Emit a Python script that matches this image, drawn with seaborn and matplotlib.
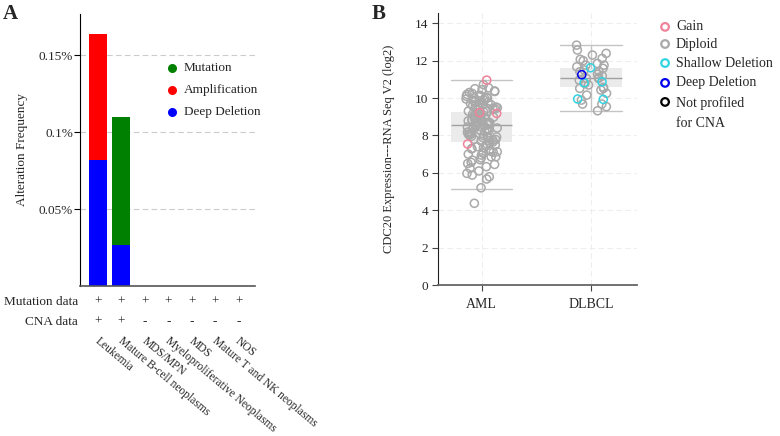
import numpy as np
import pandas as pd
import matplotlib
matplotlib.use('Agg')
import matplotlib.pyplot as plt
import seaborn as sns

# ── Panel A: alteration frequency per cancer type (%) ──────────
cancer_types = ['Leukemia', 'Mature B-cell neoplasms', 'MDS/MPN',
                'Myeloproliferative Neoplasms', 'MDS',
                'Mature T and NK neoplasms', 'NOS']
deep_deletion = [0.082, 0.027, 0, 0, 0, 0, 0]
amplification = [0.082, 0, 0, 0, 0, 0, 0]
mutation = [0, 0.083, 0, 0, 0, 0, 0]
mutation_data = ['+', '+', '+', '+', '+', '+', '+']
cna_data = ['+', '+', '-', '-', '-', '-', '-']
freq_ticks = [0.05, 0.1, 0.15]
freq_labels = ['0.05%', '0.1%', '0.15%']

# ── Panel B: CDC20 expression (log2) by CNA status ─────────────
groups = ['AML', 'DLBCL']
aml_diploid = [10.72, 10.55, 10.5, 10.45, 10.38, 10.35, 10.3,
               10.25, 10.2, 10.15, 10.1, 10.1, 10.05, 10.0, 10.0, 9.98, 9.95,
               9.9, 9.88, 9.85, 9.8, 9.78, 9.75, 9.7, 9.68, 9.65, 9.6, 9.58, 9.55, 9.52,
               9.48, 9.45, 9.42, 9.4, 9.35, 9.3, 9.28, 9.25, 9.2, 9.15, 9.12, 9.1, 9.08, 9.05, 9.02,
               8.98, 8.95, 8.92, 8.9, 8.88, 8.85, 8.82, 8.8, 8.78, 8.75, 8.72, 8.7, 8.68,
               8.65, 8.62, 8.6, 8.58, 8.55, 8.52, 8.5,
               8.48, 8.45, 8.42, 8.4, 8.38, 8.35, 8.3, 8.28, 8.25, 8.2, 8.18, 8.15, 8.1,
               8.08, 8.05, 8.02, 8.0,
               7.95, 7.92, 7.9, 7.88, 7.85, 7.8, 7.78, 7.75, 7.72, 7.7, 7.65, 7.6, 7.55, 7.5,
               7.45, 7.4, 7.35, 7.3, 7.28, 7.2, 7.15, 7.13, 7.1, 7.05, 7.0,
               6.95, 6.86, 6.86, 6.8, 6.7, 6.68, 6.56, 6.5, 6.45, 6.33, 6.24, 6.1, 5.97, 5.88,
               5.79, 5.67, 5.2, 4.37]
aml_gain = [10.96, 9.18, 9.22, 7.54]
dlbcl_diploid = [12.83, 12.57, 12.39, 12.3, 12.12, 12.07, 12.0, 11.85, 11.76, 11.76,
                 11.67, 11.59, 11.5, 11.41, 11.41, 11.28, 11.18, 11.1, 11.05, 11.05,
                 10.96, 10.78, 10.7, 10.57, 10.52, 10.52, 10.43, 10.25, 10.16, 9.89,
                 9.68, 9.68, 9.54, 9.32]
dlbcl_shallow = [11.62, 10.82, 10.87, 9.93, 9.95]
dlbcl_deep = [11.25]

# box summary
box_q1 = [7.63, 10.6]
box_med = [8.56, 11.07]
box_q3 = [9.23, 11.6]
whisk_lo = [5.13, 9.33]
whisk_hi = [10.98, 12.84]

cna_types = ['Gain', 'Diploid', 'Shallow Deletion', 'Deep Deletion', 'Not profiled\nfor CNA']
cna_colors = ['#f0829a', '#a9a9a9', '#33d4e2', '#0000ee', '#000000']

sns.set_style('ticks')
plt.rcParams['font.family'] = ['Liberation Serif', 'DejaVu Serif']

fig = plt.figure(figsize=(7.8, 4.36), dpi=100)
axA = fig.add_axes([80/780, 150/436, 175/780, 272/436])
axB = fig.add_axes([438/780, 151/436, 199/780, 272/436])

# ── Panel A: stacked bars (cumulative layers) ──────────────────
dd = np.array(deep_deletion)
amp = np.array(amplification)
mut = np.array(mutation)
for heights, col in [(dd + amp + mut, '#008000'), (dd + amp, '#ff0000'), (dd, '#0000ff')]:
    sns.barplot(x=cancer_types, y=heights, color=col, saturation=1, width=0.77,
                linewidth=0, errorbar=None, ax=axA)

axA.set_xlim(-0.77, 6.7)
axA.set_ylim(0, 0.177)
axA.set_yticks(freq_ticks)
axA.set_yticklabels(freq_labels, fontsize=9.5)
axA.set_xticks([])
axA.yaxis.grid(True, ls=(0, (5, 3)), color='#cccccc', lw=0.8)
axA.set_axisbelow(True)
axA.tick_params(axis='y', length=4, width=0.8, pad=1, color='black')
axA.set_ylabel('Alteration Frequency', fontsize=9.5, labelpad=8)
for s in ['top', 'right']:
    axA.spines[s].set_visible(False)
axA.spines['left'].set_color('black')
axA.spines['bottom'].set_color('#555555')
axA.spines['bottom'].set_linewidth(1.2)

leg_y = [0.801, 0.721, 0.640]
for (lab, col), yy in zip([('Mutation', '#008000'), ('Amplification', '#ff0000'),
                           ('Deep Deletion', '#0000ff')], leg_y):
    axA.scatter([0.526], [yy], s=30, color=col, transform=axA.transAxes, clip_on=False)
    axA.text(0.594, yy, lab, transform=axA.transAxes, va='center', fontsize=9.5)

# data availability rows and rotated cancer type labels
tr = axA.get_xaxis_transform()
axA.text(-0.01, -0.059, 'Mutation data', transform=axA.transAxes, ha='right', va='center', fontsize=9.5)
axA.text(-0.01, -0.132, 'CNA data', transform=axA.transAxes, ha='right', va='center', fontsize=9.5)
for i, name in enumerate(cancer_types):
    axA.text(i, -0.059, mutation_data[i], transform=tr, ha='center', va='center', fontsize=9.5)
    axA.text(i, -0.132, cna_data[i], transform=tr, ha='center', va='center', fontsize=9.5)
    axA.text(i + 0.1, -0.18, name, transform=tr, ha='left', va='top', rotation=-40,
             rotation_mode='anchor', fontsize=8.3)

# ── Panel B: box summary + jittered points ─────────────────────
stats = []
for k in range(len(groups)):
    stats.append(dict(q1=box_q1[k], med=box_med[k], q3=box_q3[k],
                      whislo=whisk_lo[k], whishi=whisk_hi[k], fliers=[]))
axB.bxp(stats, positions=[0, 1], widths=0.56, capwidths=0.56, patch_artist=True,
        showfliers=False, manage_ticks=False,
        boxprops=dict(facecolor='#ebebeb', edgecolor='none'),
        medianprops=dict(color='#a0a0a0', lw=1),
        whiskerprops=dict(color='#c4c4c4', lw=1),
        capprops=dict(color='#c4c4c4', lw=1))

df = pd.concat([
    pd.DataFrame({'cancer': 'AML', 'expr': aml_diploid, 'cna': 'Diploid'}),
    pd.DataFrame({'cancer': 'DLBCL', 'expr': dlbcl_diploid, 'cna': 'Diploid'}),
    pd.DataFrame({'cancer': 'AML', 'expr': aml_gain, 'cna': 'Gain'}),
    pd.DataFrame({'cancer': 'DLBCL', 'expr': dlbcl_shallow, 'cna': 'Shallow Deletion'}),
    pd.DataFrame({'cancer': 'DLBCL', 'expr': dlbcl_deep, 'cna': 'Deep Deletion'}),
], ignore_index=True)

np.random.seed(3)
n_before = len(axB.collections)
sns.stripplot(data=df, x='cancer', y='expr', hue='cna', order=groups,
              hue_order=cna_types[:4], palette=cna_colors[:4], jitter=0.15,
              size=5.8, linewidth=0, legend=False, ax=axB)
for coll in axB.collections[n_before:]:
    fc = coll.get_facecolors()
    coll.set_edgecolors(fc)
    coll.set_facecolors('none')
    coll.set_linewidth(1.1)
    coll.set_zorder(3)

axB.set_xlim(-0.40, 1.42)
axB.set_ylim(0, 14.55)
axB.set_yticks(range(0, 15, 2))
axB.tick_params(axis='both', length=4, width=0.8, color='#444444', labelsize=9.5, pad=3)
axB.tick_params(axis='x', labelsize=10, pad=5)
axB.grid(True, ls=(0, (5, 3)), color='#eeeeee', lw=0.8)
axB.set_axisbelow(True)
axB.set_xlabel('')
axB.set_ylabel('CDC20 Expression---RNA Seq V2 (log2)', fontsize=9, labelpad=14)
for s in ['top', 'right']:
    axB.spines[s].set_visible(False)
axB.spines['left'].set_color('#222222')
axB.spines['bottom'].set_color('#666666')
axB.spines['bottom'].set_linewidth(1.3)

legB_y = [0.949, 0.886, 0.816, 0.743, 0.673]
for lab, col, yy in zip(cna_types, cna_colors, legB_y):
    axB.scatter([1.141], [yy], s=30, facecolors='none', edgecolors=col, linewidths=1.6,
                transform=axB.transAxes, clip_on=False)
    if '\n' in lab:
        axB.text(1.196, yy + 0.022, lab, transform=axB.transAxes, va='top', fontsize=10,
                 linespacing=1.75)
    else:
        axB.text(1.196, yy, lab, transform=axB.transAxes, va='center', fontsize=10)

fig.text(0.004, 0.99, 'A', fontsize=15, fontweight='bold', va='top')
fig.text(0.476, 0.99, 'B', fontsize=15, fontweight='bold', va='top')

fig.savefig('out.png', dpi=100)
